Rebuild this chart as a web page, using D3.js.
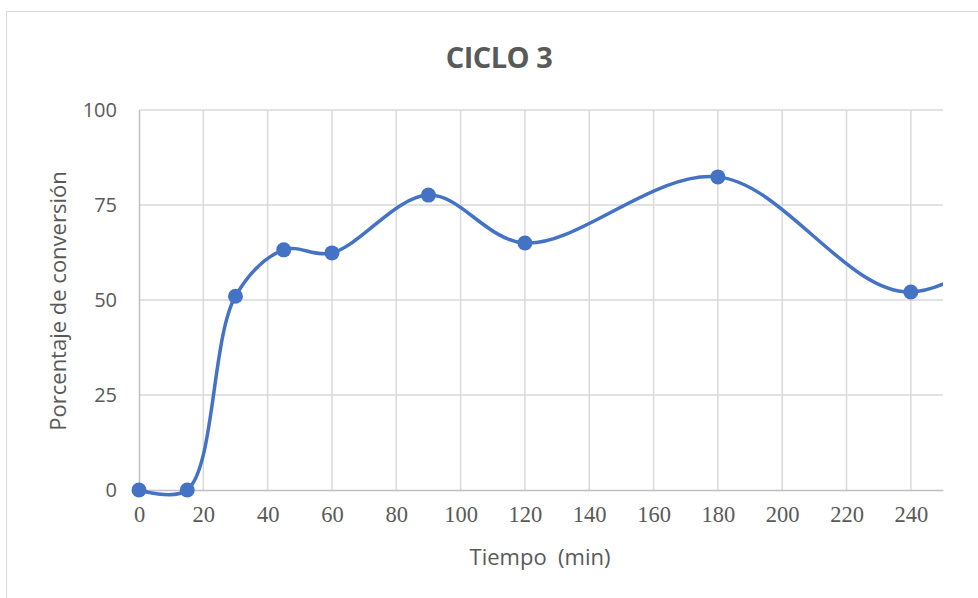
<!DOCTYPE html>
<html>
<head>
<meta charset="utf-8">
<script src="https://cdn.jsdelivr.net/npm/d3@7"></script>
<style>
  body { margin: 0; background: #fff; }
</style>
</head>
<body>
<div id="chart"></div>
<script>
// data (last point lies past the axis and is clipped)
const tiempo = [0, 15, 30, 45, 60, 90, 120, 180, 240, 300];
const conversion = [0, 0, 51, 63.2, 62.4, 77.6, 65, 82.4, 52.1, 85.5];
const xTicks = [0, 20, 40, 60, 80, 100, 120, 140, 160, 180, 200, 220, 240];
const yTicks = [0, 25, 50, 75, 100];

const width = 978, height = 598;
const plot = { left: 139, right: 943, top: 110, bottom: 490 };

const svg = d3.select('#chart')
  .append('svg')
  .attr('width', width)
  .attr('height', height);

// chart frame
svg.append('rect')
  .attr('x', 6.5).attr('y', 11.5)
  .attr('width', 1000).attr('height', 700)
  .style('fill', '#fff')
  .style('stroke', '#d9d9d9')
  .style('stroke-width', 1);

const x = d3.scaleLinear().domain([0, 250]).range([plot.left, plot.right]);
const y = d3.scaleLinear().domain([0, 100]).range([plot.bottom, plot.top]);

// gridlines
svg.append('g')
  .selectAll('line.vgrid')
  .data(xTicks.slice(1))
  .enter().append('line')
  .attr('x1', d => x(d)).attr('x2', d => x(d))
  .attr('y1', plot.top).attr('y2', plot.bottom)
  .style('stroke', '#d9d9d9').style('stroke-width', 1.5);

svg.append('g')
  .selectAll('line.hgrid')
  .data(yTicks.slice(1))
  .enter().append('line')
  .attr('x1', plot.left).attr('x2', plot.right)
  .attr('y1', d => y(d)).attr('y2', d => y(d))
  .style('stroke', '#d9d9d9').style('stroke-width', 1.5);

// axes
const xAxis = svg.append('g')
  .attr('transform', `translate(0, ${plot.bottom})`)
  .call(d3.axisBottom(x).tickValues(xTicks).tickSize(0).tickPadding(16));
xAxis.select('.domain').style('stroke', '#bfbfbf').style('stroke-width', 1.5);
xAxis.selectAll('.tick > text')
  .style('font-family', '"Liberation Serif", "Times New Roman", serif')
  .style('font-size', '22.5px')
  .style('fill', '#595959');

const yAxis = svg.append('g')
  .attr('transform', `translate(${plot.left}, 0)`)
  .call(d3.axisLeft(y).tickValues(yTicks).tickSize(0).tickPadding(22));
yAxis.select('.domain').style('stroke', '#bfbfbf').style('stroke-width', 1.5);
yAxis.selectAll('.tick > text')
  .style('font-family', '"Open Sans", "Noto Sans", sans-serif')
  .style('font-size', '20px')
  .style('fill', '#595959');

// clip for the line
svg.append('clipPath').attr('id', 'clip')
  .append('rect')
  .attr('x', 120).attr('y', 60)
  .attr('width', plot.right - 120).attr('height', 480);

const points = tiempo.map((t, i) => ({ t: t, v: conversion[i] }));

const line = d3.line()
  .x(d => x(d.t))
  .y(d => y(d.v))
  .curve(d3.curveCatmullRom.alpha(0.5));

svg.append('path')
  .datum(points)
  .attr('clip-path', 'url(#clip)')
  .attr('d', line)
  .style('fill', 'none')
  .style('stroke', '#4472c4')
  .style('stroke-width', 3.5);

svg.append('g')
  .selectAll('circle')
  .data(points.filter(d => d.t <= 250))
  .enter().append('circle')
  .attr('cx', d => x(d.t))
  .attr('cy', d => y(d.v))
  .attr('r', 7.5)
  .style('fill', '#4472c4');

// title and axis labels
svg.append('text')
  .attr('x', 499).attr('y', 68)
  .attr('text-anchor', 'middle')
  .text('CICLO 3')
  .style('font-family', '"Open Sans", "Noto Sans", sans-serif')
  .style('font-weight', 'bold')
  .style('font-size', '29px')
  .style('letter-spacing', '-0.5px')
  .style('fill', '#595959');

svg.append('text')
  .attr('x', 540).attr('y', 565)
  .attr('text-anchor', 'middle')
  .attr('xml:space', 'preserve')
  .style('white-space', 'pre')
  .text('Tiempo  (min)')
  .style('font-family', '"Open Sans", "Noto Sans", sans-serif')
  .style('font-size', '22px')
  .style('fill', '#595959');

svg.append('text')
  .attr('transform', 'translate(66, 301) rotate(-90)')
  .attr('text-anchor', 'middle')
  .text('Porcentaje de conversión')
  .style('font-family', '"Open Sans", "Noto Sans", sans-serif')
  .style('font-size', '22px')
  .style('fill', '#595959');
</script>
</body>
</html>
